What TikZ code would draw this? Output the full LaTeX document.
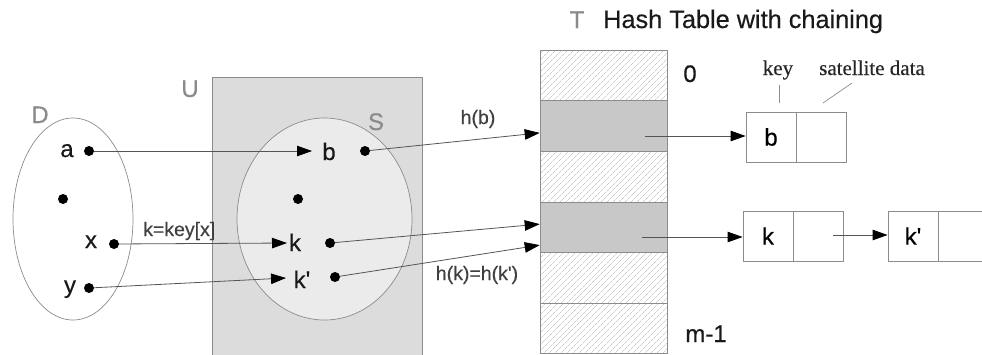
\documentclass[tikz,border=0pt]{standalone}
\usepackage{fontspec}
\setmainfont{Liberation Sans}[Ligatures=TeXOff,FakeBold=0.35]
\newfontfamily\tmsfont{Liberation Serif}[FakeBold=0.35]
\usetikzlibrary{arrows.meta,patterns.meta,calc}
\definecolor{ufill}{HTML}{DCDCDC}
\definecolor{sfill}{HTML}{EBEBEB}
\definecolor{rowgray}{HTML}{C8C8C8}
\definecolor{lblgray}{HTML}{8A8A8A}
\definecolor{linec}{HTML}{555555}
\definecolor{edgec}{HTML}{8C8C8C}
\begin{document}
\begin{tikzpicture}[x=1pt,y=-1pt,
  dot/.style={circle,fill=black,inner sep=0pt,minimum size=10pt},
  lbl/.style={anchor=base,inner sep=0pt,font=\fontsize{24}{28}\selectfont,text=black!90},
  glbl/.style={lbl,text=lblgray},
  smalllbl/.style={anchor=base,inner sep=0pt,font=\fontsize{19.5}{22}\selectfont,text=black!75},
  serlbl/.style={anchor=base,inner sep=0pt,font=\tmsfont\fontsize{21}{24}\selectfont,text=black!85},
  arr/.style={draw=linec,line width=0.8pt,-{Triangle[length=15pt,width=10.5pt,color=black]}},
  ln/.style={draw=linec,line width=0.7pt},
  cellbox/.style={draw=edgec,line width=0.8pt,minimum width=50pt,minimum height=50pt,inner sep=0pt,font=\fontsize{24}{28}\selectfont},
  hatchrow/.style={draw=edgec,line width=0.6pt,minimum width=127pt,minimum height=50.6pt,inner sep=0pt,
     pattern={Lines[angle=45,distance=4pt,line width=0.45pt]},pattern color=gray!60},
  grayrow/.style={draw=edgec,line width=0.6pt,fill=rowgray,minimum width=127pt,minimum height=50.6pt,inner sep=0pt}
]
\useasboundingbox[fill=white] (0,0) rectangle (982,354);

% universe U
\filldraw[fill=ufill,draw=edgec,line width=0.7pt] (212,77) rectangle (422,360);
\node[glbl] (U) at (190,97) {U};

% set S
\filldraw[fill=sfill,draw=edgec,line width=0.7pt] (324.5,219) ellipse [x radius=87.5, y radius=101];
\node[glbl] (S) at (376,130) {S};

% set D
\draw[draw=edgec,line width=0.7pt] (73,219) ellipse [x radius=60, y radius=101];
\node[glbl] (D) at (40,123) {D};

% dots and labels in D
\node[dot] (da) at (89,151) {};
\node[lbl] (la) at (67,157) {a};
\node[dot] (dm) at (63,199) {};
\node[dot] (dx) at (114,244) {};
\node[lbl] (lx) at (91,248) {x};
\node[dot] (dy) at (89,288) {};
\node[lbl] (ly) at (70,293) {y};

% dots and labels in S
\node[lbl] (lb) at (329,160) {b};
\node[dot] (db) at (365,151) {};
\node[dot] (dsm) at (298,199) {};
\node[lbl] (lk) at (295,251) {k};
\node[dot] (dk) at (330,243) {};
\node[lbl] (lk2) at (302,288) {k'};
\node[dot] (dk2) at (335,277) {};

\coordinate (tb) at (312,151);
\coordinate (tk) at (287,243);
\coordinate (tk2) at (286,278);
\draw[arr] (da) -- (tb);
\draw[arr] (dx) -- (tk);
\draw[arr] (dy) -- (tk2);
\node[smalllbl,anchor=base west] (kkx) at (143,236) {k=key[x]};

% hash table
\node[hatchrow] (r0) at (603.5,75.3) {};
\node[grayrow] (r1) at (603.5,125.9) {};
\node[hatchrow] (r2) at (603.5,176.5) {};
\node[grayrow] (r3) at (603.5,227.1) {};
\node[hatchrow] (r4) at (603.5,277.7) {};
\node[hatchrow] (r5) at (603.5,328.3) {};

\node[glbl] (T) at (577,28) {T};
\node[lbl,anchor=base west,font=\fontsize{25.3}{28}\selectfont] (title) at (603,28) {Hash Table with chaining};
\node[lbl] (zero) at (690,82) {0};
\node[lbl] (mm) at (706,342) {m-1};

% hash arrows
\draw[arr] (db) -- ($(r1.west)+(0,7)$);
\draw[arr] (dk) -- ($(r3.west)+(0,-3)$);
\draw[arr] (dk2) -- ($(r3.west)+(0,18)$);
\node[smalllbl] (hb) at (478,124) {h(b)};
\node[smalllbl] (hk) at (477,280) {h(k)=h(k')};

% linked lists
\node[cellbox] (bkey) at (771,137) {b};
\node[cellbox,anchor=west] (bsat) at (bkey.east) {};
\node[cellbox] (kkey) at (768,236) {k};
\node[cellbox,anchor=west] (ksat) at (kkey.east) {};
\node[cellbox] (k2key) at (913,236) {k'};
\node[cellbox,anchor=west] (k2sat) at (k2key.east) {};

\coordinate (p1) at (645,136);
\coordinate (p3) at (642,237);
\draw[arr] (p1) -- (p1 -| bkey.west);
\draw[arr] (p3) -- (p3 -| kkey.west);
\coordinate (pk) at (833,235);
\draw[arr] (pk) -- (pk -| k2key.west);

% key / satellite data annotations
\node[serlbl] (keyl) at (778,75) {key};
\node[serlbl] (satl) at (872,75) {satellite data};
\coordinate (keyend) at (779,103);
\coordinate (satend) at (823,103);
\draw[ln,draw=edgec] (779,85) -- (keyend);
\draw[ln,draw=edgec] (852,83) -- (satend);
\end{tikzpicture}
\end{document}
